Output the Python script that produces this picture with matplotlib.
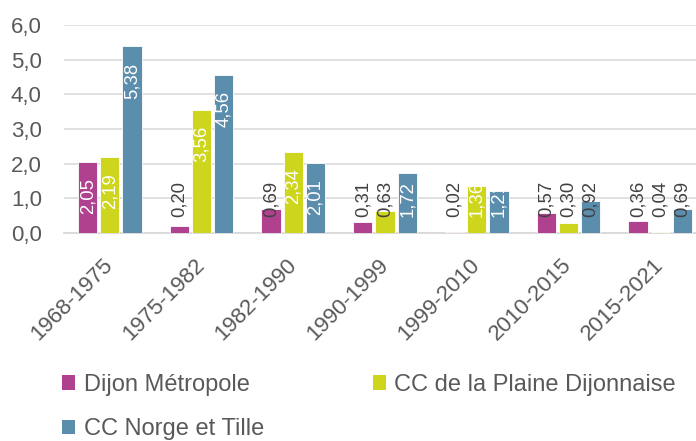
import numpy as np
import matplotlib
matplotlib.use("Agg")
import matplotlib.pyplot as plt
from matplotlib.ticker import FuncFormatter
from matplotlib.patches import Rectangle

periods = ["1968-1975", "1975-1982", "1982-1990", "1990-1999", "1999-2010", "2010-2015", "2015-2021"]
series_names = ["Dijon Métropole", "CC de la Plaine Dijonnaise", "CC Norge et Tille"]
dijon = [2.05, 0.20, 0.69, 0.31, 0.02, 0.57, 0.36]
plaine = [2.19, 3.56, 2.34, 0.63, 1.36, 0.30, 0.04]
norge = [5.38, 4.56, 2.01, 1.72, 1.21, 0.92, 0.69]
colors = ["#B0418E", "#CDD51C", "#5B8DAC"]

plt.rcParams['font.family'] = ['Liberation Sans', 'DejaVu Sans']
grey = "#595959"

fig = plt.figure(figsize=(6.96, 4.41), dpi=100)
ax = fig.add_axes([64/696, (441-233)/441, (706-64)/696, 208/441])

ind = np.arange(len(periods))
width = 0.21
step = 0.242

for k, (vals, col) in enumerate(zip([dijon, plaine, norge], colors)):
	bars = ax.bar(ind + (k-1)*step, vals, width, color=col, edgecolor="white", linewidth=0.6, zorder=3)
	for b, v in zip(bars, vals):
		# label sits inside end of the bar, but never lower than a fixed spot
		ytop = max(v - 0.46, 1.50)
		lab = ("%.2f" % v).replace(".", ",")
		if v > 1.0:
			t = ax.text(b.get_x() + b.get_width()/2, ytop, lab, rotation=90, ha='center', va='top',
						fontsize=13.3, color="white", zorder=4, clip_on=True)
			t.set_clip_path(b)
		else:
			ax.text(b.get_x() + b.get_width()/2, ytop, lab, rotation=90, ha='center', va='top',
					fontsize=13.3, color="#404040", zorder=4)

ax.set_xlim(-0.5, len(periods) - 0.5)
ax.set_ylim(0, 6)
ax.set_yticks(np.arange(0, 7, 1))
ax.yaxis.set_major_formatter(FuncFormatter(lambda y, pos: ("%.1f" % y).replace(".", ",")))
ax.set_xticks(ind)
ax.set_xticklabels(periods)
plt.setp(ax.get_xticklabels(), rotation=45, ha='right', va='center', rotation_mode='anchor')
ax.tick_params(axis='x', length=0, pad=21, labelsize=16, labelcolor=grey)
ax.tick_params(axis='y', length=0, pad=16, labelsize=16, labelcolor=grey)

ax.grid(True, axis='y', color="#D9D9D9", linewidth=1.1, zorder=0)
for s in ["top", "right", "left"]:
	ax.spines[s].set_visible(False)
ax.spines["bottom"].set_color("#D9D9D9")
ax.spines["bottom"].set_linewidth(1.3)

# legend is filled column by column, so reorder to get Excel's row order
proxy = [Rectangle((0, 0), 1, 1, facecolor=c) for c in colors]
order = [0, 2, 1]
fig.legend([proxy[i] for i in order], [series_names[i] for i in order], ncol=2, loc='upper left',
		   bbox_to_anchor=(62/696, 1 - 374/441),
		   frameon=False, fontsize=17, labelcolor=grey, handlelength=0.57, handleheight=0.57,
		   handletextpad=0.35, columnspacing=4.6, labelspacing=0.95, borderpad=0, borderaxespad=0)

fig.savefig("out.png", dpi=100)
